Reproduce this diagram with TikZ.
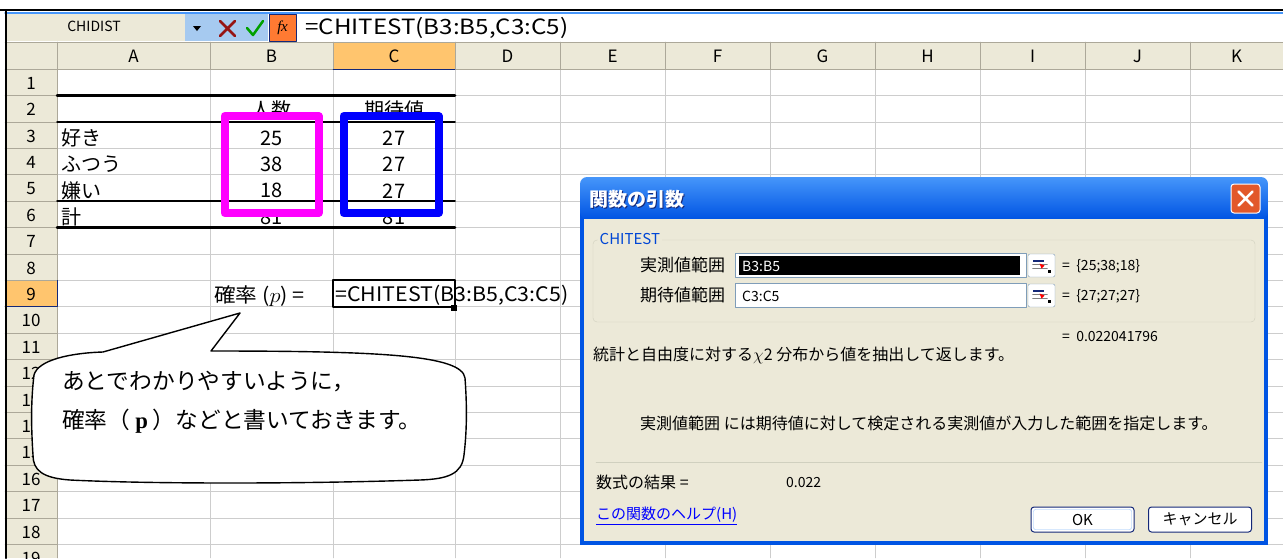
\documentclass[tikz,border=0pt]{standalone}
\usepackage{fontspec}
\setmainfont{Noto Sans CJK JP}
\newfontfamily\serifl{Liberation Serif}
\usetikzlibrary{positioning}
\definecolor{xlbeige}{RGB}{236,233,216}
\definecolor{xlline}{RGB}{172,168,153}
\definecolor{xlgrid}{RGB}{205,205,205}
\definecolor{xlorange}{RGB}{255,197,110}
\definecolor{xpblue}{RGB}{0,84,227}
\definecolor{xplight}{RGB}{70,150,250}
\definecolor{xpnavy}{RGB}{20,40,120}
\definecolor{xpred}{RGB}{226,88,42}
\definecolor{boxgray}{RGB}{127,157,185}
\definecolor{grpline}{RGB}{208,208,191}
\definecolor{grpblue}{RGB}{0,70,213}
\definecolor{linkblue}{RGB}{0,0,255}
\definecolor{fxorange}{RGB}{255,122,50}
\definecolor{barblue}{RGB}{166,202,240}
\definecolor{xlred}{RGB}{150,20,20}
\definecolor{xlgreen}{RGB}{0,160,0}
\definecolor{boxpink}{RGB}{255,0,255}
\definecolor{boxblue}{RGB}{0,0,255}

\begin{document}
\begin{tikzpicture}[x=1pt,y=-1pt,line join=round,line cap=round,
  cell/.style={inner sep=0pt,font=\fontsize{20}{20}\selectfont},
  hdr/.style={inner sep=0pt,font=\fontsize{17}{17}\selectfont},
  dlg/.style={inner sep=0pt,anchor=west,font=\fontsize{16}{16}\selectfont},
  dsmall/.style={inner sep=0pt,anchor=west,font=\fontsize{14}{14}\selectfont},
  rngbtn/.style={draw=boxgray,fill=white,rounded corners=2pt,minimum width=27pt,minimum height=23pt,inner sep=0pt},
  inbox/.style={draw=boxgray,fill=white,minimum width=291pt,minimum height=24pt,anchor=west,inner sep=0pt},
  xpbtn/.style={draw=xpnavy,fill=white,rounded corners=3pt,line width=1pt,minimum width=103pt,minimum height=25pt,inner sep=0pt,font=\fontsize{15}{15}\selectfont},
  note/.style={inner sep=0pt,anchor=west,font=\fontsize{22.7}{22.7}\selectfont}]
\useasboundingbox (0,0) rectangle (1283,558);
\fill[white] (0,0) rectangle (1283,558);
% sheet grid
\foreach \x in {210,333,455,560,665,770,875,980,1085,1190}
  \draw[xlgrid] (\x,69) -- (\x,558);
\foreach \n in {1,...,18}
  \draw[xlgrid] (57,{69+\n*26.4}) -- (1283,{69+\n*26.4});
% headers
\fill[xlbeige] (5,42) rectangle (1283,69);
\fill[xlorange] (333,42) rectangle (455,69);
\fill[xlbeige] (5,69) rectangle (57,558);
\fill[xlorange] (5,280.2) rectangle (57,306.6);
\draw[xlline] (5,42) -- (1283,42) (5,69) -- (1283,69) (57,42) -- (57,558);
\foreach \x in {210,333,455,560,665,770,875,980,1085,1190}
  \draw[xlline] (\x,42) -- (\x,69);
\foreach \n in {1,...,18}
  \draw[xlline] (5,{69+\n*26.4}) -- (57,{69+\n*26.4});
\draw[xpnavy] (333,69) -- (455,69) (57,280.2) -- (57,306.6) -- (5,306.6);
\foreach \c/\x in {A/133.5,B/271.5,C/394,D/507.5,E/612.5,F/717.5,G/822.5,H/927.5,I/1032.5,J/1137.5,K/1236.5}
  \node[hdr] (col\c) at (\x,56.5) {\c};
\foreach \n in {1,...,19}
  \node[hdr] (row\n) at (31,{69+(\n-0.5)*26.4+1}) {\n};
% formula bar
\draw[xplight,line width=1.5pt] (5,13) -- (1283,13);
\fill[xlbeige] (6,14) rectangle (185,41);
\node[inner sep=0pt,font=\fontsize{14}{14}\selectfont] (namebox) at (94,26) {CHIDIST};
\fill[barblue] (185,14) rectangle (268,41);
\fill (193,26) -- (201,26) -- (197,31) -- cycle;
\draw[xlred,line width=2.5pt] (220,21) -- (235,36) (220,36) -- (235,21);
\draw[xlgreen,line width=2.5pt] (247,28) -- (253,35) -- (263,21);
\draw[draw=xpnavy,fill=fxorange] (269,14) rectangle (296,41);
\node[inner sep=0pt,font=\fontsize{15}{15}\selectfont] (fx) at (282.5,27.5) {\serifl\itshape f\kern-0.5pt x};
\node[inner sep=0pt,anchor=west,xscale=1.15,font=\fontsize{21}{21}\selectfont] (fbar) at (305,28) {=CHITEST(B3:B5,C3:C5)};
\draw[line width=2pt] (0,10) -- (1283,10) (5.5,10) -- (5.5,558);
% table
\node[cell] (b2) at (271.5,110) {人数};
\node[cell] (c2) at (394,110) {期待値};
\foreach \n/\a/\b/\c in {3/好き/25/27,4/ふつう/38/27,5/嫌い/18/27,6/計/81/81}{
  \node[cell,anchor=west] (a\n) at (61,{69+(\n-0.5)*26.4+3}) {\a};
  \node[cell] (b\n) at (271.5,{69+(\n-0.5)*26.4+3}) {\b};
  \node[cell] (c\n) at (394,{69+(\n-0.5)*26.4+3}) {\c};
}
\draw[line width=2.5pt] (57,95.4) -- (455,95.4) (57,227.4) -- (455,227.4);
\draw[line width=1.5pt] (57,121.8) -- (455,121.8) (57,201) -- (455,201);
\draw[boxpink,line width=8pt,line cap=butt] (224.5,116) rectangle (318.5,213);
\draw[boxblue,line width=8pt,line cap=butt] (343.5,116) rectangle (438.5,213);
% row 9
\node[cell,anchor=west,xscale=1.08] (b9) at (214,296) {確率 ($p$) =};
\draw[line width=2pt] (333,280.2) rectangle (455,306.6);
\fill (451,305) rectangle (457,311);
\node[cell,anchor=west,xscale=1.07] (c9) at (335,295) {=CHITEST(B3:B5,C3:C5)};
% callout
\coordinate (tip) at (240,313);
\draw[line width=1.4pt,fill=white] (103,352) -- (tip) -- (211,351)
  .. controls (380,351) and (462,355) .. (465,378)
  .. controls (467,405) and (467,430) .. (464,455)
  .. controls (462,474) and (448,479) .. (420,480)
  .. controls (300,484) and (150,484) .. (70,480)
  .. controls (42,478) and (33,470) .. (33,455)
  .. controls (31,425) and (31,400) .. (34,375)
  .. controls (38,360) and (70,353) .. (103,352) -- cycle;
\node[note] (note1) at (62,382) {あとでわかりやすいように，};
\node[note] (note2) at (62,421) {確率（\hspace{5pt}{\serifl\bfseries p}\hspace{5pt}）などと書いておきます。};
% dialog
\fill[xpblue] (580,200) rectangle (1268,545);
\shade[top color=xplight,bottom color=xpblue,rounded corners=7pt] (580,177) rectangle (1268,219);
\fill[xlbeige] (584,219) rectangle (1264,541);
\node[inner sep=0pt,anchor=west,text=xpnavy,font=\bfseries\fontsize{19}{19}\selectfont] (titleS) at (590.5,200.5) {関数の引数};
\node[inner sep=0pt,anchor=west,text=white,font=\bfseries\fontsize{19}{19}\selectfont] (title) at (589,199) {関数の引数};
\node[draw=white,fill=xpred,rounded corners=3pt,line width=1pt,minimum size=29pt,inner sep=0pt] (close) at (1245.5,198.5) {};
\draw[white,line width=2.5pt] ([shift={(-7,-7)}]close.center) -- ([shift={(7,7)}]close.center)
  ([shift={(-7,7)}]close.center) -- ([shift={(7,-7)}]close.center);
\draw[grpline,rounded corners=4pt] (593,240) rectangle (1255,322);
\node[fill=xlbeige,text=grpblue,inner sep=1.5pt,anchor=west,font=\fontsize{15}{15}\selectfont] (grp) at (598,239) {CHITEST};
\node[dlg,font=\fontsize{17}{17}\selectfont] (lab1) at (640,265) {実測値範囲};
\node[inbox] (in1) at (735,265) {};
\fill[black] (739,256) rectangle (1020,275);
\node[dsmall,text=white] (v1) at (742,266) {B3:B5};
\node[dlg,font=\fontsize{17}{17}\selectfont] (lab2) at (640,295) {期待値範囲};
\node[inbox] (in2) at (735,295) {};
\node[dsmall] (v2) at (742,296) {C3:C5};
\node[rngbtn] (rb1) at (1041.5,265.5) {};
\node[rngbtn] (rb2) at (1041.5,295.5) {};
\foreach \b in {rb1,rb2}{
  \fill[xpnavy] ([shift={(-9,-6)}]\b.center) rectangle ([shift={(2,-4)}]\b.center);
  \draw[gray] ([shift={(-9,-1)}]\b.center) -- ([shift={(6,-1)}]\b.center)
    ([shift={(-9,3)}]\b.center) -- ([shift={(6,3)}]\b.center);
  \fill[red] ([shift={(-2,-2)}]\b.center) -- ([shift={(3,0)}]\b.center) -- ([shift={(0,3)}]\b.center) -- cycle;
  \fill ([shift={(6,4)}]\b.center) rectangle ([shift={(9,7)}]\b.center);
}
\node[dsmall] (r1) at (1062,266) {=\ \ \{25;38;18\}};
\node[dsmall] (r2) at (1062,296) {=\ \ \{27;27;27\}};
\node[dsmall] (res) at (1062,337) {=\ \ 0.022041796};
\node[dlg] (desc) at (593,355) {統計と自由度に対する$\chi$2 分布から値を抽出して返します。};
\node[dlg] (help1) at (640,423) {実測値範囲 には期待値に対して検定される実測値が入力した範囲を指定します。};
\draw[grpline] (596,462) -- (1262,462);
\node[dlg] (fres) at (596,482) {数式の結果 =};
\node[dsmall] (fval) at (786,482) {0.022};
\node[dlg,text=linkblue,font=\fontsize{15}{15}\selectfont] (link) at (596,516) {\underline{この関数のヘルプ(H)}};
\node[xpbtn] (ok) at (1082.5,519.5) {OK};
\draw[xplight!60,rounded corners=2pt] (1033.5,509.5) rectangle (1131.5,529.5);
\node[xpbtn] (cancel) at (1200,519.5) {キャンセル};
\end{tikzpicture}
\end{document}
